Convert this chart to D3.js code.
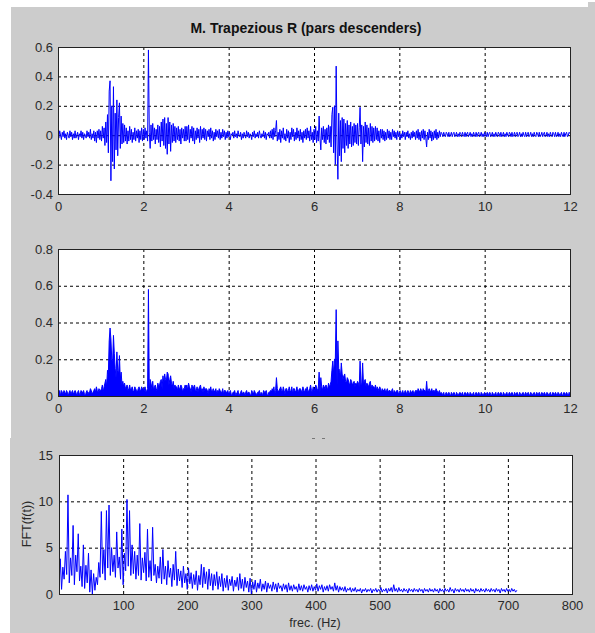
<!DOCTYPE html>
<html>
<head>
<meta charset="utf-8">
<script src="https://cdn.jsdelivr.net/npm/d3@7"></script>
<style>
body { margin: 0; background: #fff; }
svg { display: block; font-family: "Liberation Sans", Arial, sans-serif; }
</style>
</head>
<body>
<svg id="chart"></svg>
<script>
const width = 595;
const height = 633;

const title = "M. Trapezious R (pars descenders)";

// EMG signal, one sample every 0.02 s (values in hundredths)
const emgStep = 0.02;
const emgCenti = [
    // 0 s
    1,-2,3,0,-3,2,-1,3,-2,1, -3,2,0,-2,3,-1,2,-3,1,-2, 3,-2,0,2,-3,1,-1,3,-2,2,
    -3,1,0,-2,3,-1,2,-2,4,-3, 1,-2,3,-4,2,-5,3,-2,4,-3,
    // 1 s
    3,-4,6,-2,5,-7,9,-5,14,-12, 30,37,-31,20,-18,33,-23,15,-10,24, -14,12,22,-9,13,-6,8,-5,7,-4,
    5,-6,3,-4,6,-3,4,-5,2,-3, 5,-4,3,-2,4,-5,3,-3,5,-4,
    // 2 s
    4,-3,5,-2,3,-4,58,2,-9,7, -4,8,-3,5,-6,4,-3,7,-5,6, -8,9,-4,11,-7,12,-9,8,-13,12,
    -6,9,-11,7,-5,8,-4,6,-5,5, -3,6,-4,4,-6,5,-2,4,-4,6,
    // 3 s
    -4,6,-3,7,-5,4,-2,6,-4,5, -6,3,-3,5,-2,4,-5,6,-3,4, -2,5,-3,4,-4,3,-1,4,-3,5,
    -2,3,-4,2,-3,4,-1,3,-2,4, -3,2,-2,4,-1,3,-3,2,-2,3,
    // 4 s
    -1,2,-3,1,0,2,-2,3,-1,1, -2,3,0,-1,2,-3,1,-2,2,0, -2,3,-1,2,-2,1,0,-3,2,-1,
    3,-2,1,-1,2,-2,3,0,-2,1, -1,3,-2,2,-3,1,0,2,-2,3,
    // 5 s
    -2,4,-3,5,-1,3,10,-4,2,-3, 4,-5,3,-2,5,-3,1,-4,4,-2, 3,-5,2,-3,5,-1,4,-4,2,-3,
    5,-2,3,-4,4,-3,2,-5,3,-2, 4,-3,5,-2,3,-4,6,-3,2,-5,
    // 6 s
    4,-3,6,-5,3,-4,13,-2,-10,5, -3,6,-5,4,-6,5,-3,7,-5,6, -8,14,19,-12,20,-20,47,-6,-30,15,
    -14,10,-18,12,-9,11,-12,8,-7,10, -9,7,-6,9,-8,6,-7,8,-5,7,
    // 7 s
    -6,8,-7,5,19,-6,7,-18,6,-8, 9,-5,7,-6,5,-7,8,-4,6,-5, 5,-4,6,-3,5,-4,3,-5,4,-2,
    4,-3,3,-4,2,-3,4,-2,3,-3, 2,-3,4,-1,3,-2,2,-3,3,-1,
    // 8 s
    2,-3,1,-2,3,-1,2,-3,2,-1, 3,-2,1,-3,2,-2,3,-1,2,-3, 3,-2,4,-3,2,-4,3,-2,4,-3,
    3,-2,-8,2,-3,4,-2,3,-4,2, -3,3,-2,4,-3,2,-2,3,-1,2,
    // 9 s
    1,-1,2,0,-1,2,1,-1,2,-1, 0,2,-1,1,2,-1,0,2,-1,1, -1,2,1,-1,2,0,-1,2,-1,1,
    2,-1,0,2,-1,1,-1,2,0,-1, 2,-1,1,2,-1,0,2,-1,1,-1,
    // 10 s
    2,0,-1,2,-1,1,2,-1,0,2, -1,1,-1,2,0,-1,2,1,-1,2, -1,0,2,-1,1,-1,2,0,-1,2,
    1,-1,2,-1,0,2,-1,1,2,-1, 0,2,-1,1,-1,2,0,-1,2,-1,
    // 11 s
    1,2,-1,0,2,-1,1,-1,2,0, -1,2,1,-1,2,-1,0,2,-1,1, 2,-1,0,2,-1,1,-1,2,0,-1,
    2,1,-1,2,-1,0,2,-1,1,-1, 2,0,-1,2,-1,1,2,-1,0,2,
    // 12 s
    1
];

// FFT magnitude, one value every 2 Hz from 0 Hz
const fftStep = 2;
const fftMag = [
    1.0,3.8,0.5,2.9,1.6,4.6,2.1,10.7,1.2,3.9, 2.0,7.4,1.0,4.2,2.4,6.5,1.4,3.0,0.8,5.3,
    0.6,3.1,1.2,4.4,0.2,2.6,0.0,2.2,0.4,1.8, 1.0,3.4,1.8,8.9,2.2,4.8,1.5,9.0,2.8,9.6,
    2.0,5.0,2.4,4.2,1.8,6.7,2.8,4.0,1.6,7.0, 1.0,4.4,2.5,10.2,3.0,9.0,2.0,5.3,2.2,4.6,
    1.6,4.2,2.0,7.6,1.5,3.9,2.3,4.5,1.4,7.0, 1.8,3.6,1.4,7.2,2.0,3.2,1.2,3.0,1.7,4.0,
    1.1,4.8,1.6,3.0,1.0,3.6,1.8,2.8,0.8,3.2, 1.5,4.6,0.9,2.7,1.4,2.5,0.7,3.0,1.2,2.2,
    0.5,2.8,1.1,2.3,0.6,2.1,1.0,2.5,0.4,2.0, 1.0,3.2,0.7,2.9,1.1,2.4,0.5,2.7,0.9,2.2,
    0.4,2.1,0.9,2.4,0.5,1.9,0.8,2.2,0.3,1.7, 0.7,2.0,0.4,1.6,0.9,1.9,0.3,1.5,0.8,1.8,
    0.4,2.2,0.6,1.6,0.3,1.8,0.7,1.4,0.2,1.7, 0.0,1.3,0.5,1.5,0.2,1.2,0.6,1.6,0.3,1.1,
    0.5,1.4,0.2,1.2,0.6,1.0,0.3,1.3,0.5,1.1, 0.2,1.2,0.6,0.9,0.3,1.1,0.5,1.0,0.2,1.2,
    0.4,0.9,0.3,1.0,0.5,0.8,0.2,1.1,0.4,0.9, 0.3,1.0,0.5,0.8,0.2,0.9,0.4,1.0,0.3,0.8,
    0.4,1.1,0.3,0.9,0.5,1.0,0.2,0.8,0.4,0.9, 0.3,1.0,0.5,0.8,0.3,1.2,0.4,0.9,0.2,0.8,
    0.4,0.7,0.3,0.8,0.2,0.6,0.4,0.7,0.2,0.6, 0.3,0.7,0.2,0.5,0.3,0.6,0.1,0.5,0.3,0.6,
    0.2,0.5,0.3,0.6,0.1,0.5,0.3,0.6,0.2,0.5, 0.3,0.7,0.2,0.5,0.3,0.6,0.1,0.6,0.3,0.7,
    0.2,1.0,0.3,0.6,0.2,0.7,0.3,0.5,0.2,0.6, 0.3,0.5,0.1,0.6,0.3,0.5,0.2,0.6,0.3,0.5,
    0.2,0.6,0.3,0.5,0.1,0.6,0.3,0.5,0.2,0.6, 0.3,0.5,0.2,0.6,0.3,0.5,0.1,0.6,0.3,0.5,
    0.2,0.6,0.3,0.5,0.2,0.7,0.3,0.5,0.1,0.6, 0.3,0.5,0.2,0.6,0.3,0.5,0.2,0.6,0.3,0.5,
    0.2,0.6,0.3,0.5,0.1,0.6,0.3,0.5,0.2,0.6, 0.3,0.5,0.2,0.6,0.3,0.5,0.2,0.6,0.3,0.5,
    0.2,0.6,0.3,0.5,0.1,0.6,0.3,0.5,0.2,0.6, 0.3,0.5,0.2,0.6,0.3,0.5,0.2,0.4
];

const timeTicks = [0, 2, 4, 6, 8, 10, 12];
const rawTicks = [-0.4, -0.2, 0, 0.2, 0.4, 0.6];
const rectTicks = [0, 0.2, 0.4, 0.6, 0.8];
const freqTicks = [100, 200, 300, 400, 500, 600, 700, 800];
const fftTicks = [0, 5, 10, 15];

const emg = emgCenti.map((v, i) => ({t: i * emgStep, v: v / 100}));
const spectrum = fftMag.map((v, i) => ({f: i * fftStep, v: v}));

const svg = d3.select("#chart")
    .attr("width", width)
    .attr("height", height);

// figure background (two stitched screenshots)
svg.append("rect").attr("width", width).attr("height", height).attr("fill", "#fff");
svg.append("rect").attr("x", 11).attr("y", 7).attr("width", width - 11).attr("height", 431).attr("fill", "#cccccc");
svg.append("rect").attr("x", 588).attr("y", 2).attr("width", 7).attr("height", 6).attr("fill", "#cccccc");
svg.append("rect").attr("x", 10).attr("y", 438).attr("width", width - 10).attr("height", height - 438).attr("fill", "#cccccc");

const fmtNum = d => d === 0 ? "0" : (Number.isInteger(d) ? String(d) : d.toFixed(1));

function panel(id, box, xDomain, yDomain, xTicks, yTicks, xPad, yPad) {
    const [x0, y0, x1, y1] = box;
    const x = d3.scaleLinear().domain(xDomain).range([x0, x1]);
    const y = d3.scaleLinear().domain(yDomain).range([y1, y0]);
    const g = svg.append("g");

    g.append("rect")
        .attr("x", x0).attr("y", y0)
        .attr("width", x1 - x0).attr("height", y1 - y0)
        .attr("fill", "#fff");

    // dashed grid
    const gx = g.append("g")
        .attr("transform", `translate(0,${y1})`)
        .call(d3.axisBottom(x)
            .tickValues(xTicks.filter(d => d > xDomain[0] && d < xDomain[1]))
            .tickSize(-(y1 - y0)).tickFormat(""));
    const gy = g.append("g")
        .attr("transform", `translate(${x0},0)`)
        .call(d3.axisLeft(y)
            .tickValues(yTicks.filter(d => d > yDomain[0] && d < yDomain[1]))
            .tickSize(-(x1 - x0)).tickFormat(""));
    [gx, gy].forEach(a => {
        a.select(".domain").remove();
        a.selectAll("line").attr("stroke", "#000").attr("stroke-dasharray", "3,3");
    });

    g.append("clipPath").attr("id", id)
        .append("rect")
        .attr("x", x0).attr("y", y0)
        .attr("width", x1 - x0).attr("height", y1 - y0);

    const plot = g.append("g").attr("clip-path", `url(#${id})`);

    // box
    g.append("rect")
        .attr("x", x0 + 0.5).attr("y", y0 + 0.5)
        .attr("width", x1 - x0).attr("height", y1 - y0)
        .attr("fill", "none").attr("stroke", "#222");

    // tick labels
    const lx = g.append("g")
        .attr("transform", `translate(0,${y1})`)
        .call(d3.axisBottom(x).tickValues(xTicks).tickSize(0).tickPadding(xPad).tickFormat(fmtNum));
    const ly = g.append("g")
        .attr("transform", `translate(${x0},0)`)
        .call(d3.axisLeft(y).tickValues(yTicks).tickSize(0).tickPadding(yPad).tickFormat(fmtNum));
    [lx, ly].forEach(a => {
        a.select(".domain").remove();
        a.attr("font-size", 13).attr("font-family", null);
        a.selectAll("text").attr("fill", "#2a2a2a");
    });

    return {g, plot, x, y};
}

// title
svg.append("text")
    .attr("x", 306).attr("y", 33)
    .attr("text-anchor", "middle")
    .attr("font-size", 14).attr("font-weight", "bold")
    .attr("fill", "#111")
    .text(title);

// raw signal
const p1 = panel("c1", [58, 47, 570, 194], [0, 12], [-0.4, 0.6], timeTicks, rawTicks, 8, 5);
p1.plot.append("path")
    .datum(emg)
    .attr("fill", "none")
    .attr("stroke", "#0000ff")
    .attr("stroke-width", 1)
    .attr("d", d3.line().x(d => p1.x(d.t)).y(d => p1.y(d.v)));

// rectified signal
const p2 = panel("c2", [58, 249, 570, 396], [0, 12], [0, 0.8], timeTicks, rectTicks, 8, 5);
p2.plot.append("path")
    .datum(emg)
    .attr("fill", "#0000ff")
    .attr("stroke", "#0000ff")
    .attr("stroke-width", 1)
    .attr("d", d3.area().x(d => p2.x(d.t)).y0(p2.y(0)).y1(d => p2.y(Math.abs(d.v))));

// spectrum
const p3 = panel("c3", [59, 455, 572, 594], [0, 800], [0, 15], freqTicks, fftTicks, 7, 6);
p3.plot.append("path")
    .datum(spectrum)
    .attr("fill", "none")
    .attr("stroke", "#0000ff")
    .attr("stroke-width", 1)
    .attr("d", d3.line().x(d => p3.x(d.f)).y(d => p3.y(d.v)));

p3.g.append("text")
    .attr("transform", "translate(31,524) rotate(-90)")
    .attr("text-anchor", "middle")
    .attr("font-size", 12.5)
    .attr("fill", "#2a2a2a")
    .text("FFT(f(t))");

p3.g.append("text")
    .attr("x", 315).attr("y", 627)
    .attr("text-anchor", "middle")
    .attr("font-size", 12.5)
    .attr("fill", "#2a2a2a")
    .text("frec. (Hz)");

// leftovers of a cropped label between the screenshots
svg.append("rect").attr("x", 312).attr("y", 438).attr("width", 3).attr("height", 1).attr("fill", "#777");
svg.append("rect").attr("x", 322).attr("y", 438).attr("width", 3).attr("height", 1).attr("fill", "#777");
</script>
</body>
</html>
